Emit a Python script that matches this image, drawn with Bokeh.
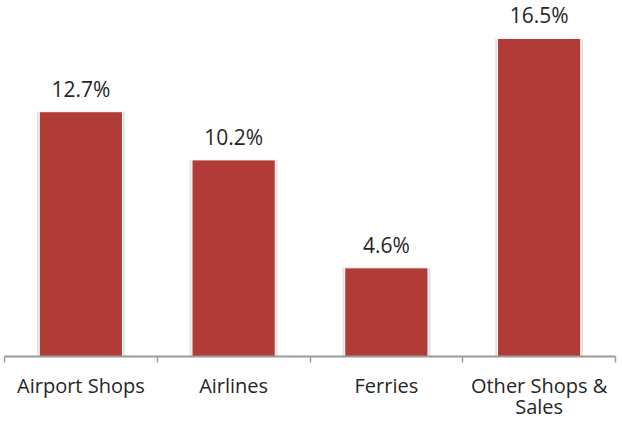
from bokeh.plotting import figure
from bokeh.models import Range1d, FixedTicker, ColumnDataSource
from bokeh.core.properties import value
from bokeh.embed import file_html
from bokeh.resources import INLINE

categories = ["Airport Shops", "Airlines", "Ferries", "Other Shops &\nSales"]
shares = [12.7, 10.2, 4.6, 16.5]
value_labels = ["12.7%", "10.2%", "4.6%", "16.5%"]

n = len(categories)
centers = [i + 0.5 for i in range(n)]
bounds = [float(i) for i in range(n + 1)]

src = ColumnDataSource(dict(x=centers, top=shares, label=value_labels))

FONT = "Open Sans"
p = figure(width=622, height=423, output_backend="svg", toolbar_location=None,
           x_range=Range1d(0, n), y_range=Range1d(0, 18.47),
           min_border_left=4, min_border_right=7, min_border_top=0,
           min_border_bottom=65)
p.outline_line_color = None
p.grid.visible = False
p.yaxis.visible = False
p.background_fill_color = "white"
p.border_fill_color = "white"

# soft shadow behind bars
p.vbar(x="x", top="top", width=0.575, bottom=0, source=src,
       fill_color="#c8c8c8", fill_alpha=0.55, line_color=None)
p.vbar(x="x", top="top", width=0.545, bottom=0, source=src,
       fill_color="#B03B37", line_color="white", line_width=1)

p.text(x="x", y="top", text="label", source=src, text_align="center",
       text_baseline="alphabetic", y_offset=-23, text_font=value(FONT),
       text_font_size="21px", text_color="#262626")

ax = p.xaxis[0]
ax.ticker = FixedTicker(ticks=centers, minor_ticks=bounds)
ax.major_label_overrides = {c: lab for c, lab in zip(centers, categories)}
ax.axis_line_color = "#9a9a9a"
ax.axis_line_width = 2
ax.major_tick_line_color = None
ax.major_tick_out = 0
ax.major_tick_in = 0
ax.minor_tick_line_color = "#9a9a9a"
ax.minor_tick_line_width = 1.5
ax.minor_tick_out = 6
ax.minor_tick_in = 0
ax.major_label_standoff = 9
ax.major_label_text_line_height = 0.8
ax.major_label_text_font = FONT
ax.major_label_text_font_size = "20px"
ax.major_label_text_color = "#262626"

open("out.html", "w").write(file_html(p, INLINE))
